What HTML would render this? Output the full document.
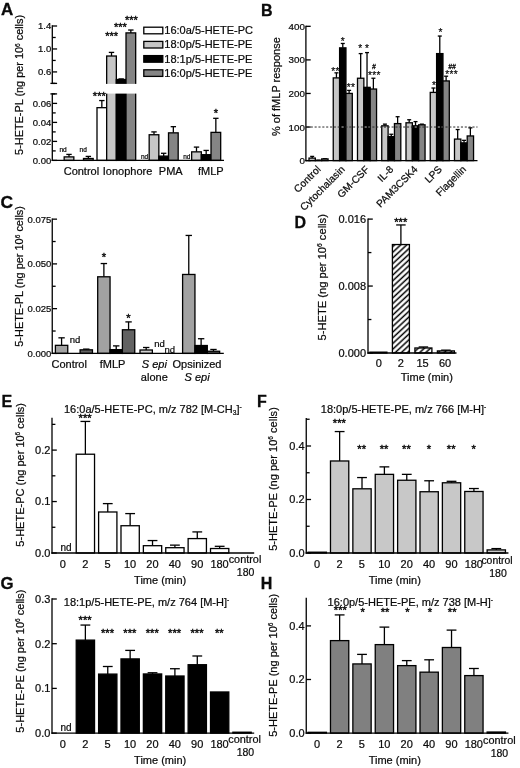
<!DOCTYPE html>
<html><head><meta charset="utf-8"><title>Figure</title>
<style>
html,body{margin:0;padding:0;background:#fff;}
svg{display:block;will-change:transform;font-family:"Liberation Sans",sans-serif;fill:#000;}
svg text{font-family:"Liberation Sans",sans-serif;fill:#0a0a0a;stroke:#0a0a0a;stroke-width:0.22px;}
</style></head><body>
<svg width="520" height="768" viewBox="0 0 520 768">
<rect x="0" y="0" width="520" height="768" fill="#fff"/>
<text transform="translate(0.90,14.80) scale(1.06,1)" font-size="16.0" font-weight="bold" style="stroke-width:0.3px">A</text>
<line x1="52.30" y1="25.35" x2="52.30" y2="84.05" stroke="#000" stroke-width="1.3" />
<line x1="52.30" y1="26.00" x2="57.10" y2="26.00" stroke="#000" stroke-width="1.3" />
<line x1="52.30" y1="48.96" x2="57.10" y2="48.96" stroke="#000" stroke-width="1.3" />
<line x1="52.30" y1="71.92" x2="57.10" y2="71.92" stroke="#000" stroke-width="1.3" />
<line x1="52.30" y1="83.40" x2="57.10" y2="83.40" stroke="#000" stroke-width="1.3" />
<line x1="52.30" y1="37.48" x2="55.70" y2="37.48" stroke="#000" stroke-width="1.3" />
<line x1="52.30" y1="60.44" x2="55.70" y2="60.44" stroke="#000" stroke-width="1.3" />
<text x="51.30" y="29.40" font-size="9.5" text-anchor="end" >1.4</text>
<text x="51.30" y="52.36" font-size="9.5" text-anchor="end" >1.0</text>
<text x="51.30" y="75.32" font-size="9.5" text-anchor="end" >0.6</text>
<line x1="52.30" y1="93.25" x2="52.30" y2="161.05" stroke="#000" stroke-width="1.3" />
<line x1="52.30" y1="93.90" x2="57.10" y2="93.90" stroke="#000" stroke-width="1.3" />
<line x1="52.30" y1="103.40" x2="57.10" y2="103.40" stroke="#000" stroke-width="1.3" />
<line x1="52.30" y1="122.40" x2="57.10" y2="122.40" stroke="#000" stroke-width="1.3" />
<line x1="52.30" y1="141.40" x2="57.10" y2="141.40" stroke="#000" stroke-width="1.3" />
<line x1="52.30" y1="160.40" x2="57.10" y2="160.40" stroke="#000" stroke-width="1.3" />
<line x1="52.30" y1="112.90" x2="55.70" y2="112.90" stroke="#000" stroke-width="1.3" />
<line x1="52.30" y1="131.90" x2="55.70" y2="131.90" stroke="#000" stroke-width="1.3" />
<line x1="52.30" y1="150.90" x2="55.70" y2="150.90" stroke="#000" stroke-width="1.3" />
<text x="51.30" y="106.80" font-size="9.5" text-anchor="end" >0.06</text>
<text x="51.30" y="125.80" font-size="9.5" text-anchor="end" >0.04</text>
<text x="51.30" y="144.80" font-size="9.5" text-anchor="end" >0.02</text>
<text x="51.30" y="163.80" font-size="9.5" text-anchor="end" >0.00</text>
<text transform="translate(23.40,84.90) rotate(-90)" font-size="10.9" text-anchor="middle">5-HETE-PL (ng per 10<tspan font-size="6.5" dy="-3.9">6</tspan><tspan dy="3.9"> </tspan>cells)</text>
<line x1="69.00" y1="156.89" x2="69.00" y2="154.41" stroke="#000" stroke-width="1.3" />
<line x1="66.30" y1="154.41" x2="71.70" y2="154.41" stroke="#000" stroke-width="1.3" />
<rect x="64.17" y="156.89" width="9.67" height="3.51" fill="#c6c6c6" stroke="#000" stroke-width="1.3"/>
<line x1="88.34" y1="158.50" x2="88.34" y2="156.41" stroke="#000" stroke-width="1.3" />
<line x1="85.64" y1="156.41" x2="91.05" y2="156.41" stroke="#000" stroke-width="1.3" />
<rect x="83.51" y="158.50" width="9.67" height="1.90" fill="#858585" stroke="#000" stroke-width="1.3"/>
<text x="63.00" y="151.90" font-size="6.5" text-anchor="middle" >nd</text>
<text x="83.20" y="151.90" font-size="6.5" text-anchor="middle" >nd</text>
<line x1="101.84" y1="107.68" x2="101.84" y2="100.55" stroke="#000" stroke-width="1.3" />
<line x1="99.14" y1="100.55" x2="104.54" y2="100.55" stroke="#000" stroke-width="1.3" />
<rect x="97.00" y="107.68" width="9.67" height="52.72" fill="#fff" stroke="#000" stroke-width="1.3"/>
<line x1="111.50" y1="56.02" x2="111.50" y2="52.40" stroke="#000" stroke-width="1.3" />
<line x1="108.80" y1="52.40" x2="114.20" y2="52.40" stroke="#000" stroke-width="1.3" />
<rect x="106.67" y="56.02" width="9.67" height="104.38" fill="#c6c6c6" stroke="#000" stroke-width="1.3"/>
<line x1="121.17" y1="79.50" x2="121.17" y2="78.92" stroke="#000" stroke-width="1.3" />
<line x1="118.47" y1="78.92" x2="123.88" y2="78.92" stroke="#000" stroke-width="1.3" />
<rect x="116.34" y="79.50" width="9.67" height="80.90" fill="#000" stroke="#000" stroke-width="1.3"/>
<line x1="130.84" y1="32.89" x2="130.84" y2="30.02" stroke="#000" stroke-width="1.3" />
<line x1="128.15" y1="30.02" x2="133.54" y2="30.02" stroke="#000" stroke-width="1.3" />
<rect x="126.01" y="32.89" width="9.67" height="127.51" fill="#858585" stroke="#000" stroke-width="1.3"/>
<rect x="105.17" y="83.9" width="32.01" height="9.7" fill="#fff"/>
<text x="99.30" y="99.75" font-size="11.088000000000001" text-anchor="middle" style="stroke-width:0.38px" letter-spacing="0">***</text>
<text x="111.70" y="40.05" font-size="11.088000000000001" text-anchor="middle" style="stroke-width:0.38px" letter-spacing="0">***</text>
<text x="120.40" y="30.95" font-size="11.088000000000001" text-anchor="middle" style="stroke-width:0.38px" letter-spacing="0">***</text>
<text x="131.40" y="24.45" font-size="11.088000000000001" text-anchor="middle" style="stroke-width:0.38px" letter-spacing="0">***</text>
<line x1="154.00" y1="134.75" x2="154.00" y2="131.90" stroke="#000" stroke-width="1.3" />
<line x1="151.31" y1="131.90" x2="156.70" y2="131.90" stroke="#000" stroke-width="1.3" />
<rect x="149.17" y="134.75" width="9.67" height="25.65" fill="#c6c6c6" stroke="#000" stroke-width="1.3"/>
<line x1="163.68" y1="156.12" x2="163.68" y2="153.28" stroke="#000" stroke-width="1.3" />
<line x1="160.98" y1="153.28" x2="166.38" y2="153.28" stroke="#000" stroke-width="1.3" />
<rect x="158.84" y="156.12" width="9.67" height="4.28" fill="#000" stroke="#000" stroke-width="1.3"/>
<line x1="173.34" y1="132.85" x2="173.34" y2="126.68" stroke="#000" stroke-width="1.3" />
<line x1="170.65" y1="126.68" x2="176.04" y2="126.68" stroke="#000" stroke-width="1.3" />
<rect x="168.51" y="132.85" width="9.67" height="27.55" fill="#858585" stroke="#000" stroke-width="1.3"/>
<text x="144.60" y="159.00" font-size="6.5" text-anchor="middle" >nd</text>
<line x1="196.50" y1="151.85" x2="196.50" y2="147.10" stroke="#000" stroke-width="1.3" />
<line x1="193.81" y1="147.10" x2="199.20" y2="147.10" stroke="#000" stroke-width="1.3" />
<rect x="191.67" y="151.85" width="9.67" height="8.55" fill="#c6c6c6" stroke="#000" stroke-width="1.3"/>
<line x1="206.18" y1="154.70" x2="206.18" y2="150.43" stroke="#000" stroke-width="1.3" />
<line x1="203.48" y1="150.43" x2="208.88" y2="150.43" stroke="#000" stroke-width="1.3" />
<rect x="201.34" y="154.70" width="9.67" height="5.70" fill="#000" stroke="#000" stroke-width="1.3"/>
<line x1="215.84" y1="132.38" x2="215.84" y2="118.31" stroke="#000" stroke-width="1.3" />
<line x1="213.15" y1="118.31" x2="218.54" y2="118.31" stroke="#000" stroke-width="1.3" />
<rect x="211.01" y="132.38" width="9.67" height="28.03" fill="#858585" stroke="#000" stroke-width="1.3"/>
<text x="186.80" y="159.00" font-size="6.5" text-anchor="middle" >nd</text>
<text x="216.00" y="117.45" font-size="11.088000000000001" text-anchor="middle" style="stroke-width:0.38px" letter-spacing="0">*</text>
<line x1="50.40" y1="83.40" x2="55.30" y2="83.40" stroke="#000" stroke-width="1.3" />
<line x1="50.40" y1="93.90" x2="55.30" y2="93.90" stroke="#000" stroke-width="1.3" />
<line x1="51.65" y1="160.40" x2="224.00" y2="160.40" stroke="#000" stroke-width="1.3" />
<text x="63.70" y="174.75" font-size="11" text-anchor="start" >Control</text>
<text x="102.80" y="174.75" font-size="11" text-anchor="start" >Ionophore</text>
<text x="158.80" y="174.75" font-size="11" text-anchor="start" >PMA</text>
<text x="198.00" y="174.75" font-size="11" text-anchor="start" >fMLP</text>
<rect x="143.8" y="27.20" width="19.0" height="6.6" fill="#fff" stroke="#000" stroke-width="1.3"/>
<text x="164.30" y="34.20" font-size="11" text-anchor="start" >16:0a/5-HETE-PC</text>
<rect x="143.8" y="41.40" width="19.0" height="6.6" fill="#c6c6c6" stroke="#000" stroke-width="1.3"/>
<text x="164.30" y="48.40" font-size="11" text-anchor="start" >18:0p/5-HETE-PE</text>
<rect x="143.8" y="55.60" width="19.0" height="6.6" fill="#000" stroke="#000" stroke-width="1.3"/>
<text x="164.30" y="62.60" font-size="11" text-anchor="start" >18:1p/5-HETE-PE</text>
<rect x="143.8" y="69.80" width="19.0" height="6.6" fill="#858585" stroke="#000" stroke-width="1.3"/>
<text x="164.30" y="76.80" font-size="11" text-anchor="start" >16:0p/5-HETE-PE</text>
<text transform="translate(261.00,15.50) scale(1.0,1)" font-size="16" font-weight="bold" style="stroke-width:0.3px">B</text>
<line x1="305.90" y1="25.67" x2="305.90" y2="161.25" stroke="#000" stroke-width="1.3" />
<line x1="305.90" y1="26.32" x2="310.70" y2="26.32" stroke="#000" stroke-width="1.3" />
<line x1="305.90" y1="59.89" x2="310.70" y2="59.89" stroke="#000" stroke-width="1.3" />
<line x1="305.90" y1="93.46" x2="310.70" y2="93.46" stroke="#000" stroke-width="1.3" />
<line x1="305.90" y1="127.03" x2="310.70" y2="127.03" stroke="#000" stroke-width="1.3" />
<line x1="305.90" y1="160.60" x2="310.70" y2="160.60" stroke="#000" stroke-width="1.3" />
<text x="304.90" y="29.83" font-size="9.8" text-anchor="end" >400</text>
<text x="304.90" y="63.40" font-size="9.8" text-anchor="end" >300</text>
<text x="304.90" y="96.97" font-size="9.8" text-anchor="end" >200</text>
<text x="304.90" y="130.54" font-size="9.8" text-anchor="end" >100</text>
<text x="304.90" y="164.11" font-size="9.8" text-anchor="end" >0</text>
<text transform="translate(280.40,86.60) rotate(-90)" font-size="11" text-anchor="middle">% of fMLP response</text>
<line x1="312.18" y1="158.09" x2="312.18" y2="156.40" stroke="#000" stroke-width="1.3" />
<line x1="310.18" y1="156.40" x2="314.18" y2="156.40" stroke="#000" stroke-width="1.3" />
<rect x="309.00" y="158.09" width="6.35" height="2.51" fill="#c6c6c6" stroke="#000" stroke-width="1.3"/>
<line x1="318.53" y1="160.32" x2="318.53" y2="160.25" stroke="#000" stroke-width="1.3" />
<line x1="316.53" y1="160.25" x2="320.53" y2="160.25" stroke="#000" stroke-width="1.3" />
<rect x="315.35" y="160.32" width="6.35" height="0.28" fill="#000" stroke="#000" stroke-width="1.3"/>
<line x1="324.88" y1="158.90" x2="324.88" y2="158.70" stroke="#000" stroke-width="1.3" />
<line x1="322.88" y1="158.70" x2="326.88" y2="158.70" stroke="#000" stroke-width="1.3" />
<rect x="321.70" y="158.90" width="6.35" height="1.70" fill="#858585" stroke="#000" stroke-width="1.3"/>
<line x1="336.43" y1="77.90" x2="336.43" y2="72.84" stroke="#000" stroke-width="1.3" />
<line x1="334.43" y1="72.84" x2="338.43" y2="72.84" stroke="#000" stroke-width="1.3" />
<rect x="333.25" y="77.90" width="6.35" height="82.70" fill="#c6c6c6" stroke="#000" stroke-width="1.3"/>
<line x1="342.78" y1="47.86" x2="342.78" y2="43.47" stroke="#000" stroke-width="1.3" />
<line x1="340.78" y1="43.47" x2="344.78" y2="43.47" stroke="#000" stroke-width="1.3" />
<rect x="339.60" y="47.86" width="6.35" height="112.74" fill="#000" stroke="#000" stroke-width="1.3"/>
<line x1="349.12" y1="93.42" x2="349.12" y2="90.39" stroke="#000" stroke-width="1.3" />
<line x1="347.12" y1="90.39" x2="351.12" y2="90.39" stroke="#000" stroke-width="1.3" />
<rect x="345.95" y="93.42" width="6.35" height="67.18" fill="#858585" stroke="#000" stroke-width="1.3"/>
<line x1="360.68" y1="78.24" x2="360.68" y2="53.60" stroke="#000" stroke-width="1.3" />
<line x1="358.68" y1="53.60" x2="362.68" y2="53.60" stroke="#000" stroke-width="1.3" />
<rect x="357.50" y="78.24" width="6.35" height="82.36" fill="#c6c6c6" stroke="#000" stroke-width="1.3"/>
<line x1="367.03" y1="87.35" x2="367.03" y2="52.59" stroke="#000" stroke-width="1.3" />
<line x1="365.03" y1="52.59" x2="369.03" y2="52.59" stroke="#000" stroke-width="1.3" />
<rect x="363.85" y="87.35" width="6.35" height="73.25" fill="#000" stroke="#000" stroke-width="1.3"/>
<line x1="373.38" y1="89.04" x2="373.38" y2="78.24" stroke="#000" stroke-width="1.3" />
<line x1="371.38" y1="78.24" x2="375.38" y2="78.24" stroke="#000" stroke-width="1.3" />
<rect x="370.20" y="89.04" width="6.35" height="71.56" fill="#858585" stroke="#000" stroke-width="1.3"/>
<line x1="384.93" y1="125.82" x2="384.93" y2="124.14" stroke="#000" stroke-width="1.3" />
<line x1="382.93" y1="124.14" x2="386.93" y2="124.14" stroke="#000" stroke-width="1.3" />
<rect x="381.75" y="125.82" width="6.35" height="34.78" fill="#c6c6c6" stroke="#000" stroke-width="1.3"/>
<line x1="391.28" y1="136.62" x2="391.28" y2="134.26" stroke="#000" stroke-width="1.3" />
<line x1="389.28" y1="134.26" x2="393.28" y2="134.26" stroke="#000" stroke-width="1.3" />
<rect x="388.10" y="136.62" width="6.35" height="23.97" fill="#000" stroke="#000" stroke-width="1.3"/>
<line x1="397.62" y1="123.60" x2="397.62" y2="116.71" stroke="#000" stroke-width="1.3" />
<line x1="395.62" y1="116.71" x2="399.62" y2="116.71" stroke="#000" stroke-width="1.3" />
<rect x="394.45" y="123.60" width="6.35" height="37.00" fill="#858585" stroke="#000" stroke-width="1.3"/>
<line x1="409.18" y1="122.79" x2="409.18" y2="119.75" stroke="#000" stroke-width="1.3" />
<line x1="407.18" y1="119.75" x2="411.18" y2="119.75" stroke="#000" stroke-width="1.3" />
<rect x="406.00" y="122.79" width="6.35" height="37.81" fill="#c6c6c6" stroke="#000" stroke-width="1.3"/>
<line x1="415.53" y1="125.82" x2="415.53" y2="121.61" stroke="#000" stroke-width="1.3" />
<line x1="413.53" y1="121.61" x2="417.53" y2="121.61" stroke="#000" stroke-width="1.3" />
<rect x="412.35" y="125.82" width="6.35" height="34.78" fill="#000" stroke="#000" stroke-width="1.3"/>
<line x1="421.88" y1="124.81" x2="421.88" y2="124.14" stroke="#000" stroke-width="1.3" />
<line x1="419.88" y1="124.14" x2="423.88" y2="124.14" stroke="#000" stroke-width="1.3" />
<rect x="418.70" y="124.81" width="6.35" height="35.79" fill="#858585" stroke="#000" stroke-width="1.3"/>
<line x1="433.43" y1="92.41" x2="433.43" y2="88.02" stroke="#000" stroke-width="1.3" />
<line x1="431.43" y1="88.02" x2="435.43" y2="88.02" stroke="#000" stroke-width="1.3" />
<rect x="430.25" y="92.41" width="6.35" height="68.19" fill="#c6c6c6" stroke="#000" stroke-width="1.3"/>
<line x1="439.78" y1="53.60" x2="439.78" y2="36.05" stroke="#000" stroke-width="1.3" />
<line x1="437.78" y1="36.05" x2="441.78" y2="36.05" stroke="#000" stroke-width="1.3" />
<rect x="436.60" y="53.60" width="6.35" height="107.00" fill="#000" stroke="#000" stroke-width="1.3"/>
<line x1="446.12" y1="80.94" x2="446.12" y2="76.21" stroke="#000" stroke-width="1.3" />
<line x1="444.12" y1="76.21" x2="448.12" y2="76.21" stroke="#000" stroke-width="1.3" />
<rect x="442.95" y="80.94" width="6.35" height="79.66" fill="#858585" stroke="#000" stroke-width="1.3"/>
<line x1="457.68" y1="139.09" x2="457.68" y2="129.54" stroke="#000" stroke-width="1.3" />
<line x1="455.68" y1="129.54" x2="459.68" y2="129.54" stroke="#000" stroke-width="1.3" />
<rect x="454.50" y="139.09" width="6.35" height="21.51" fill="#c6c6c6" stroke="#000" stroke-width="1.3"/>
<line x1="464.03" y1="142.87" x2="464.03" y2="140.34" stroke="#000" stroke-width="1.3" />
<line x1="462.03" y1="140.34" x2="466.03" y2="140.34" stroke="#000" stroke-width="1.3" />
<rect x="460.85" y="142.87" width="6.35" height="17.73" fill="#000" stroke="#000" stroke-width="1.3"/>
<line x1="470.38" y1="135.95" x2="470.38" y2="127.85" stroke="#000" stroke-width="1.3" />
<line x1="468.38" y1="127.85" x2="472.38" y2="127.85" stroke="#000" stroke-width="1.3" />
<rect x="467.20" y="135.95" width="6.35" height="24.65" fill="#858585" stroke="#000" stroke-width="1.3"/>
<line x1="305.25" y1="160.60" x2="477.50" y2="160.60" stroke="#000" stroke-width="1.3" />
<line x1="306.90" y1="127.03" x2="477.5" y2="127.03" stroke="#2a2a2a" stroke-width="1.0" stroke-dasharray="2.1,1.75"/>
<line x1="340.25" y1="127.03" x2="345.30" y2="127.03" stroke="#b0b0b0" stroke-width="1.0" stroke-dasharray="2.1,1.75" stroke-dashoffset="2.55"/>
<line x1="364.50" y1="127.03" x2="369.55" y2="127.03" stroke="#b0b0b0" stroke-width="1.0" stroke-dasharray="2.1,1.75" stroke-dashoffset="3.70"/>
<line x1="413.00" y1="127.03" x2="418.05" y2="127.03" stroke="#b0b0b0" stroke-width="1.0" stroke-dasharray="2.1,1.75" stroke-dashoffset="2.15"/>
<line x1="437.25" y1="127.03" x2="442.30" y2="127.03" stroke="#b0b0b0" stroke-width="1.0" stroke-dasharray="2.1,1.75" stroke-dashoffset="3.30"/>
<text transform="translate(321.32,170.0) rotate(-45)" font-size="10.2" text-anchor="end">Control</text>
<text transform="translate(345.57,170.0) rotate(-45)" font-size="10.2" text-anchor="end">Cytochalasin</text>
<text transform="translate(369.82,170.0) rotate(-45)" font-size="10.2" text-anchor="end">GM-CSF</text>
<text transform="translate(394.07,170.0) rotate(-45)" font-size="10.2" text-anchor="end">IL-8</text>
<text transform="translate(418.32,170.0) rotate(-45)" font-size="10.2" text-anchor="end">PAM3CSK4</text>
<text transform="translate(442.57,170.0) rotate(-45)" font-size="10.2" text-anchor="end">LPS</text>
<text transform="translate(466.82,170.0) rotate(-45)" font-size="10.2" text-anchor="end">Flagellin</text>
<text x="335.57" y="74.99" font-size="10.080000000000002" text-anchor="middle" style="stroke-width:0.2px" letter-spacing="0.35">**</text>
<text x="342.78" y="44.79" font-size="10.080000000000002" text-anchor="middle" style="stroke-width:0.2px" letter-spacing="0.35">*</text>
<text x="351.07" y="90.79" font-size="10.080000000000002" text-anchor="middle" style="stroke-width:0.2px" letter-spacing="0.35">**</text>
<text x="360.38" y="52.19" font-size="10.080000000000002" text-anchor="middle" style="stroke-width:0.2px" letter-spacing="0.35">*</text>
<text x="367.18" y="52.19" font-size="10.080000000000002" text-anchor="middle" style="stroke-width:0.2px" letter-spacing="0.35">*</text>
<text x="374.38" y="78.59" font-size="10.080000000000002" text-anchor="middle" style="stroke-width:0.2px" letter-spacing="0.35">***</text>
<text x="373.80" y="68.70" font-size="6.8" text-anchor="middle" font-style="italic" style="stroke-width:0.32px">#</text>
<text x="434.18" y="88.59" font-size="10.080000000000002" text-anchor="middle" style="stroke-width:0.2px" letter-spacing="0.35">*</text>
<text x="440.68" y="36.09" font-size="10.080000000000002" text-anchor="middle" style="stroke-width:0.2px" letter-spacing="0.35">*</text>
<text x="451.68" y="78.09" font-size="10.080000000000002" text-anchor="middle" style="stroke-width:0.2px" letter-spacing="0.35">***</text>
<text x="452.00" y="68.80" font-size="6.8" text-anchor="middle" font-style="italic" style="stroke-width:0.32px">##</text>
<text transform="translate(0.60,208.40) scale(1.09,1)" font-size="16" font-weight="bold" style="stroke-width:0.3px">C</text>
<line x1="52.25" y1="218.50" x2="52.25" y2="354.05" stroke="#000" stroke-width="1.3" />
<line x1="52.25" y1="219.15" x2="57.05" y2="219.15" stroke="#000" stroke-width="1.3" />
<line x1="52.25" y1="263.90" x2="57.05" y2="263.90" stroke="#000" stroke-width="1.3" />
<line x1="52.25" y1="308.65" x2="57.05" y2="308.65" stroke="#000" stroke-width="1.3" />
<line x1="52.25" y1="353.40" x2="57.05" y2="353.40" stroke="#000" stroke-width="1.3" />
<line x1="52.25" y1="241.52" x2="55.65" y2="241.52" stroke="#000" stroke-width="1.3" />
<line x1="52.25" y1="286.27" x2="55.65" y2="286.27" stroke="#000" stroke-width="1.3" />
<line x1="52.25" y1="331.02" x2="55.65" y2="331.02" stroke="#000" stroke-width="1.3" />
<text x="51.25" y="222.55" font-size="9.5" text-anchor="end" >0.075</text>
<text x="51.25" y="267.30" font-size="9.5" text-anchor="end" >0.050</text>
<text x="51.25" y="312.05" font-size="9.5" text-anchor="end" >0.025</text>
<text x="51.25" y="356.80" font-size="9.5" text-anchor="end" >0.000</text>
<text transform="translate(23.40,276.40) rotate(-90)" font-size="10.95" text-anchor="middle">5-HETE-PL (ng per 10<tspan font-size="6.6" dy="-3.9">6</tspan><tspan dy="3.9"> </tspan>cells)</text>
<line x1="61.58" y1="345.34" x2="61.58" y2="337.83" stroke="#000" stroke-width="1.3" />
<line x1="58.38" y1="337.83" x2="64.78" y2="337.83" stroke="#000" stroke-width="1.3" />
<rect x="55.40" y="345.34" width="12.35" height="8.06" fill="#a2a2a2" stroke="#000" stroke-width="1.3"/>
<line x1="86.27" y1="349.82" x2="86.27" y2="349.10" stroke="#000" stroke-width="1.3" />
<line x1="83.07" y1="349.10" x2="89.47" y2="349.10" stroke="#000" stroke-width="1.3" />
<rect x="80.10" y="349.82" width="12.35" height="3.58" fill="#626262" stroke="#000" stroke-width="1.3"/>
<text x="75.00" y="343.00" font-size="9.5" text-anchor="middle" >nd</text>
<line x1="103.88" y1="276.79" x2="103.88" y2="263.54" stroke="#000" stroke-width="1.3" />
<line x1="100.67" y1="263.54" x2="107.08" y2="263.54" stroke="#000" stroke-width="1.3" />
<rect x="97.70" y="276.79" width="12.35" height="76.61" fill="#a2a2a2" stroke="#000" stroke-width="1.3"/>
<line x1="116.22" y1="349.64" x2="116.22" y2="345.88" stroke="#000" stroke-width="1.3" />
<line x1="113.02" y1="345.88" x2="119.42" y2="345.88" stroke="#000" stroke-width="1.3" />
<rect x="110.05" y="349.64" width="12.35" height="3.76" fill="#000" stroke="#000" stroke-width="1.3"/>
<line x1="128.57" y1="329.77" x2="128.57" y2="321.90" stroke="#000" stroke-width="1.3" />
<line x1="125.37" y1="321.90" x2="131.77" y2="321.90" stroke="#000" stroke-width="1.3" />
<rect x="122.40" y="329.77" width="12.35" height="23.63" fill="#626262" stroke="#000" stroke-width="1.3"/>
<text x="103.90" y="260.51" font-size="11.200000000000001" text-anchor="middle" style="stroke-width:0.38px" letter-spacing="0">*</text>
<text x="128.50" y="321.51" font-size="11.200000000000001" text-anchor="middle" style="stroke-width:0.38px" letter-spacing="0">*</text>
<line x1="146.18" y1="350.00" x2="146.18" y2="347.49" stroke="#000" stroke-width="1.3" />
<line x1="142.98" y1="347.49" x2="149.38" y2="347.49" stroke="#000" stroke-width="1.3" />
<rect x="140.00" y="350.00" width="12.35" height="3.40" fill="#d0d0d0" stroke="#000" stroke-width="1.3"/>
<text x="159.50" y="347.00" font-size="9.5" text-anchor="middle" >nd</text>
<text x="169.80" y="353.00" font-size="9.5" text-anchor="middle" >nd</text>
<line x1="188.77" y1="274.46" x2="188.77" y2="235.44" stroke="#000" stroke-width="1.3" />
<line x1="185.57" y1="235.44" x2="191.97" y2="235.44" stroke="#000" stroke-width="1.3" />
<rect x="182.60" y="274.46" width="12.35" height="78.94" fill="#a2a2a2" stroke="#000" stroke-width="1.3"/>
<line x1="201.12" y1="345.52" x2="201.12" y2="338.72" stroke="#000" stroke-width="1.3" />
<line x1="197.93" y1="338.72" x2="204.32" y2="338.72" stroke="#000" stroke-width="1.3" />
<rect x="194.95" y="345.52" width="12.35" height="7.88" fill="#000" stroke="#000" stroke-width="1.3"/>
<line x1="213.47" y1="351.25" x2="213.47" y2="349.46" stroke="#000" stroke-width="1.3" />
<line x1="210.27" y1="349.46" x2="216.67" y2="349.46" stroke="#000" stroke-width="1.3" />
<rect x="207.30" y="351.25" width="12.35" height="2.15" fill="#626262" stroke="#000" stroke-width="1.3"/>
<line x1="51.60" y1="353.40" x2="223.80" y2="353.40" stroke="#000" stroke-width="1.3" />
<text x="69.20" y="368.00" font-size="11" text-anchor="middle" >Control</text>
<text x="112.50" y="368.00" font-size="11" text-anchor="middle" >fMLP</text>
<text x="154.40" y="367.50" font-size="11" text-anchor="middle" font-style="italic">S epi</text>
<text x="154.30" y="381.00" font-size="11" text-anchor="middle" >alone</text>
<text x="197.00" y="367.50" font-size="11" text-anchor="middle" >Opsinized</text>
<text x="197.10" y="381.00" font-size="11" text-anchor="middle" font-style="italic">S epi</text>
<text transform="translate(294.50,228.20) scale(1.0,1)" font-size="16" font-weight="bold" style="stroke-width:0.3px">D</text>
<line x1="368.00" y1="218.45" x2="368.00" y2="353.65" stroke="#000" stroke-width="1.3" />
<line x1="368.00" y1="219.10" x2="372.80" y2="219.10" stroke="#000" stroke-width="1.3" />
<line x1="368.00" y1="286.05" x2="372.80" y2="286.05" stroke="#000" stroke-width="1.3" />
<line x1="368.00" y1="353.00" x2="372.80" y2="353.00" stroke="#000" stroke-width="1.3" />
<line x1="368.00" y1="252.57" x2="371.40" y2="252.57" stroke="#000" stroke-width="1.3" />
<line x1="368.00" y1="319.52" x2="371.40" y2="319.52" stroke="#000" stroke-width="1.3" />
<text x="366.00" y="223.03" font-size="11" text-anchor="end" >0.016</text>
<text x="366.00" y="289.99" font-size="11" text-anchor="end" >0.008</text>
<text x="366.00" y="356.94" font-size="11" text-anchor="end" >0.000</text>
<text transform="translate(326.20,277.30) rotate(-90)" font-size="11.15" text-anchor="middle">5-HETE (ng per 10<tspan font-size="6.7" dy="-4.0">6</tspan><tspan dy="4.0"> </tspan>cells)</text>
<defs><pattern id="hatch" width="4.17" height="4.17" patternUnits="userSpaceOnUse" patternTransform="rotate(-43)"><rect width="4.17" height="4.17" fill="#fff"/><line x1="-1" y1="2" x2="6" y2="2" stroke="#000" stroke-width="1.5"/></pattern></defs>
<rect x="369.90" y="352.16" width="17.00" height="0.84" fill="url(#hatch)" stroke="#000" stroke-width="1.3"/>
<line x1="400.90" y1="244.54" x2="400.90" y2="224.95" stroke="#000" stroke-width="1.3" />
<line x1="396.15" y1="224.95" x2="405.65" y2="224.95" stroke="#000" stroke-width="1.3" />
<rect x="392.40" y="244.54" width="17.00" height="108.46" fill="url(#hatch)" stroke="#000" stroke-width="1.3"/>
<line x1="423.40" y1="347.98" x2="423.40" y2="346.97" stroke="#000" stroke-width="1.3" />
<line x1="418.65" y1="346.97" x2="428.15" y2="346.97" stroke="#000" stroke-width="1.3" />
<rect x="414.90" y="347.98" width="17.00" height="5.02" fill="url(#hatch)" stroke="#000" stroke-width="1.3"/>
<line x1="445.90" y1="350.91" x2="445.90" y2="350.15" stroke="#000" stroke-width="1.3" />
<line x1="441.15" y1="350.15" x2="450.65" y2="350.15" stroke="#000" stroke-width="1.3" />
<rect x="437.40" y="350.91" width="17.00" height="2.09" fill="url(#hatch)" stroke="#000" stroke-width="1.3"/>
<line x1="367.35" y1="353.00" x2="456.50" y2="353.00" stroke="#000" stroke-width="1.3" />
<text x="400.80" y="226.01" font-size="11.200000000000001" text-anchor="middle" style="stroke-width:0.38px" letter-spacing="0">***</text>
<text x="378.75" y="367.40" font-size="11" text-anchor="middle" >0</text>
<text x="400.75" y="367.40" font-size="11" text-anchor="middle" >2</text>
<text x="422.50" y="367.40" font-size="11" text-anchor="middle" >15</text>
<text x="445.00" y="367.40" font-size="11" text-anchor="middle" >60</text>
<text x="426.80" y="380.60" font-size="11" text-anchor="middle" >Time (min)</text>
<text transform="translate(1.50,406.80) scale(1.0,1)" font-size="16" font-weight="bold" style="stroke-width:0.3px">E</text>
<line x1="52.00" y1="417.85" x2="52.00" y2="553.65" stroke="#000" stroke-width="1.3" />
<line x1="52.00" y1="553.00" x2="56.80" y2="553.00" stroke="#000" stroke-width="1.3" />
<line x1="52.00" y1="501.55" x2="56.80" y2="501.55" stroke="#000" stroke-width="1.3" />
<line x1="52.00" y1="450.10" x2="56.80" y2="450.10" stroke="#000" stroke-width="1.3" />
<line x1="52.00" y1="527.27" x2="55.40" y2="527.27" stroke="#000" stroke-width="1.3" />
<line x1="52.00" y1="475.82" x2="55.40" y2="475.82" stroke="#000" stroke-width="1.3" />
<line x1="52.00" y1="424.38" x2="55.40" y2="424.38" stroke="#000" stroke-width="1.3" />
<text x="50.40" y="556.94" font-size="11" text-anchor="end" >0.0</text>
<text x="50.40" y="505.49" font-size="11" text-anchor="end" >0.1</text>
<text x="50.40" y="454.04" font-size="11" text-anchor="end" >0.2</text>
<text transform="translate(23.70,474.80) rotate(-90)" font-size="11" text-anchor="middle">5-HETE-PC (ng per 10<tspan font-size="6.6" dy="-4.0">6</tspan><tspan dy="4.0"> </tspan>cells)</text>
<line x1="85.38" y1="454.22" x2="85.38" y2="421.44" stroke="#000" stroke-width="1.3" />
<line x1="80.48" y1="421.44" x2="90.28" y2="421.44" stroke="#000" stroke-width="1.3" />
<rect x="76.23" y="454.22" width="18.30" height="98.78" fill="#fff" stroke="#000" stroke-width="1.3"/>
<line x1="107.76" y1="511.99" x2="107.76" y2="503.61" stroke="#000" stroke-width="1.3" />
<line x1="102.86" y1="503.61" x2="112.66" y2="503.61" stroke="#000" stroke-width="1.3" />
<rect x="98.61" y="511.99" width="18.30" height="41.01" fill="#fff" stroke="#000" stroke-width="1.3"/>
<line x1="130.14" y1="525.73" x2="130.14" y2="513.59" stroke="#000" stroke-width="1.3" />
<line x1="125.24" y1="513.59" x2="135.04" y2="513.59" stroke="#000" stroke-width="1.3" />
<rect x="120.99" y="525.73" width="18.30" height="27.27" fill="#fff" stroke="#000" stroke-width="1.3"/>
<line x1="152.52" y1="545.69" x2="152.52" y2="540.55" stroke="#000" stroke-width="1.3" />
<line x1="147.62" y1="540.55" x2="157.42" y2="540.55" stroke="#000" stroke-width="1.3" />
<rect x="143.37" y="545.69" width="18.30" height="7.31" fill="#fff" stroke="#000" stroke-width="1.3"/>
<line x1="174.90" y1="547.70" x2="174.90" y2="545.13" stroke="#000" stroke-width="1.3" />
<line x1="170.00" y1="545.13" x2="179.80" y2="545.13" stroke="#000" stroke-width="1.3" />
<rect x="165.75" y="547.70" width="18.30" height="5.30" fill="#fff" stroke="#000" stroke-width="1.3"/>
<line x1="197.28" y1="538.59" x2="197.28" y2="531.91" stroke="#000" stroke-width="1.3" />
<line x1="192.38" y1="531.91" x2="202.18" y2="531.91" stroke="#000" stroke-width="1.3" />
<rect x="188.13" y="538.59" width="18.30" height="14.41" fill="#fff" stroke="#000" stroke-width="1.3"/>
<line x1="219.66" y1="548.52" x2="219.66" y2="546.31" stroke="#000" stroke-width="1.3" />
<line x1="214.76" y1="546.31" x2="224.56" y2="546.31" stroke="#000" stroke-width="1.3" />
<rect x="210.51" y="548.52" width="18.30" height="4.48" fill="#fff" stroke="#000" stroke-width="1.3"/>
<line x1="51.35" y1="553.00" x2="254.20" y2="553.00" stroke="#000" stroke-width="1.3" />
<text x="66.00" y="550.60" font-size="10" text-anchor="middle" >nd</text>
<text x="85.08" y="421.51" font-size="11.200000000000001" text-anchor="middle" style="stroke-width:0.38px" letter-spacing="0">***</text>
<text x="62.90" y="568.00" font-size="11" text-anchor="middle" >0</text>
<text x="85.28" y="568.00" font-size="11" text-anchor="middle" >2</text>
<text x="107.66" y="568.00" font-size="11" text-anchor="middle" >5</text>
<text x="130.04" y="568.00" font-size="11" text-anchor="middle" >10</text>
<text x="152.42" y="568.00" font-size="11" text-anchor="middle" >20</text>
<text x="174.80" y="568.00" font-size="11" text-anchor="middle" >40</text>
<text x="197.18" y="568.00" font-size="11" text-anchor="middle" >90</text>
<text x="219.56" y="568.00" font-size="11" text-anchor="middle" >180</text>
<text x="245.00" y="563.00" font-size="10.9" text-anchor="middle" >control</text>
<text x="245.60" y="576.20" font-size="10.5" text-anchor="middle" >180</text>
<text x="160.20" y="583.80" font-size="11" text-anchor="middle" >Time (min)</text>
<text x="64.0" y="412.6" font-size="11">16:0a/5-HETE-PC, m/z 782 [M-CH<tspan font-size='6.6' dy='2.2'>3</tspan><tspan dy='-2.2'>]</tspan><tspan font-size="6.6" dy="-3.6">-</tspan></text>
<text transform="translate(257.00,407.40) scale(1.0,1)" font-size="16" font-weight="bold" style="stroke-width:0.3px">F</text>
<line x1="306.25" y1="418.10" x2="306.25" y2="553.65" stroke="#000" stroke-width="1.3" />
<line x1="306.25" y1="553.00" x2="311.05" y2="553.00" stroke="#000" stroke-width="1.3" />
<line x1="306.25" y1="499.50" x2="311.05" y2="499.50" stroke="#000" stroke-width="1.3" />
<line x1="306.25" y1="446.00" x2="311.05" y2="446.00" stroke="#000" stroke-width="1.3" />
<line x1="306.25" y1="526.25" x2="309.65" y2="526.25" stroke="#000" stroke-width="1.3" />
<line x1="306.25" y1="472.75" x2="309.65" y2="472.75" stroke="#000" stroke-width="1.3" />
<line x1="306.25" y1="419.25" x2="309.65" y2="419.25" stroke="#000" stroke-width="1.3" />
<text x="304.65" y="556.94" font-size="11" text-anchor="end" >0.0</text>
<text x="304.65" y="503.44" font-size="11" text-anchor="end" >0.2</text>
<text x="304.65" y="449.94" font-size="11" text-anchor="end" >0.4</text>
<text transform="translate(277.30,479.00) rotate(-90)" font-size="11.05" text-anchor="middle">5-HETE-PE (ng per 10<tspan font-size="6.6" dy="-4.0">6</tspan><tspan dy="4.0"> </tspan>cells)</text>
<rect x="308.10" y="552.20" width="18.30" height="0.80" fill="#c8c8c8" stroke="#000" stroke-width="1.3"/>
<line x1="339.63" y1="460.98" x2="339.63" y2="431.56" stroke="#000" stroke-width="1.3" />
<line x1="334.73" y1="431.56" x2="344.53" y2="431.56" stroke="#000" stroke-width="1.3" />
<rect x="330.48" y="460.98" width="18.30" height="92.02" fill="#c8c8c8" stroke="#000" stroke-width="1.3"/>
<line x1="362.01" y1="488.80" x2="362.01" y2="477.56" stroke="#000" stroke-width="1.3" />
<line x1="357.11" y1="477.56" x2="366.91" y2="477.56" stroke="#000" stroke-width="1.3" />
<rect x="352.86" y="488.80" width="18.30" height="64.20" fill="#c8c8c8" stroke="#000" stroke-width="1.3"/>
<line x1="384.39" y1="474.36" x2="384.39" y2="466.87" stroke="#000" stroke-width="1.3" />
<line x1="379.49" y1="466.87" x2="389.29" y2="466.87" stroke="#000" stroke-width="1.3" />
<rect x="375.24" y="474.36" width="18.30" height="78.64" fill="#c8c8c8" stroke="#000" stroke-width="1.3"/>
<line x1="406.77" y1="480.24" x2="406.77" y2="474.36" stroke="#000" stroke-width="1.3" />
<line x1="401.87" y1="474.36" x2="411.67" y2="474.36" stroke="#000" stroke-width="1.3" />
<rect x="397.62" y="480.24" width="18.30" height="72.76" fill="#c8c8c8" stroke="#000" stroke-width="1.3"/>
<line x1="429.15" y1="491.74" x2="429.15" y2="480.77" stroke="#000" stroke-width="1.3" />
<line x1="424.25" y1="480.77" x2="434.05" y2="480.77" stroke="#000" stroke-width="1.3" />
<rect x="420.00" y="491.74" width="18.30" height="61.26" fill="#c8c8c8" stroke="#000" stroke-width="1.3"/>
<line x1="451.53" y1="482.78" x2="451.53" y2="481.31" stroke="#000" stroke-width="1.3" />
<line x1="446.63" y1="481.31" x2="456.43" y2="481.31" stroke="#000" stroke-width="1.3" />
<rect x="442.38" y="482.78" width="18.30" height="70.22" fill="#c8c8c8" stroke="#000" stroke-width="1.3"/>
<line x1="473.91" y1="491.48" x2="473.91" y2="488.53" stroke="#000" stroke-width="1.3" />
<line x1="469.01" y1="488.53" x2="478.81" y2="488.53" stroke="#000" stroke-width="1.3" />
<rect x="464.76" y="491.48" width="18.30" height="61.52" fill="#c8c8c8" stroke="#000" stroke-width="1.3"/>
<line x1="496.29" y1="549.90" x2="496.29" y2="548.59" stroke="#000" stroke-width="1.3" />
<line x1="491.39" y1="548.59" x2="501.19" y2="548.59" stroke="#000" stroke-width="1.3" />
<rect x="487.14" y="549.90" width="18.30" height="3.10" fill="#c8c8c8" stroke="#000" stroke-width="1.3"/>
<line x1="305.60" y1="553.00" x2="508.45" y2="553.00" stroke="#000" stroke-width="1.3" />
<text x="339.33" y="427.26" font-size="11.200000000000001" text-anchor="middle" style="stroke-width:0.38px" letter-spacing="0">***</text>
<text x="361.71" y="453.11" font-size="11.200000000000001" text-anchor="middle" style="stroke-width:0.38px" letter-spacing="0">**</text>
<text x="384.09" y="453.11" font-size="11.200000000000001" text-anchor="middle" style="stroke-width:0.38px" letter-spacing="0">**</text>
<text x="406.47" y="453.11" font-size="11.200000000000001" text-anchor="middle" style="stroke-width:0.38px" letter-spacing="0">**</text>
<text x="428.85" y="453.11" font-size="11.200000000000001" text-anchor="middle" style="stroke-width:0.38px" letter-spacing="0">*</text>
<text x="451.23" y="453.11" font-size="11.200000000000001" text-anchor="middle" style="stroke-width:0.38px" letter-spacing="0">**</text>
<text x="473.61" y="453.11" font-size="11.200000000000001" text-anchor="middle" style="stroke-width:0.38px" letter-spacing="0">*</text>
<text x="317.15" y="568.00" font-size="11" text-anchor="middle" >0</text>
<text x="339.53" y="568.00" font-size="11" text-anchor="middle" >2</text>
<text x="361.91" y="568.00" font-size="11" text-anchor="middle" >5</text>
<text x="384.29" y="568.00" font-size="11" text-anchor="middle" >10</text>
<text x="406.67" y="568.00" font-size="11" text-anchor="middle" >20</text>
<text x="429.05" y="568.00" font-size="11" text-anchor="middle" >40</text>
<text x="451.43" y="568.00" font-size="11" text-anchor="middle" >90</text>
<text x="473.81" y="568.00" font-size="11" text-anchor="middle" >180</text>
<text x="497.00" y="564.30" font-size="10.4" text-anchor="middle" >control</text>
<text x="498.00" y="577.10" font-size="10.5" text-anchor="middle" >180</text>
<text x="394.75" y="583.80" font-size="11" text-anchor="middle" >Time (min)</text>
<text x="320.8" y="412.7" font-size="11">18:0p/5-HETE-PE, m/z 766 [M-H]<tspan font-size="6.6" dy="-3.6">-</tspan></text>
<text transform="translate(0.60,588.80) scale(1.05,1)" font-size="16" font-weight="bold" style="stroke-width:0.3px">G</text>
<line x1="52.00" y1="598.35" x2="52.00" y2="733.75" stroke="#000" stroke-width="1.3" />
<line x1="52.00" y1="733.10" x2="56.80" y2="733.10" stroke="#000" stroke-width="1.3" />
<line x1="52.00" y1="688.40" x2="56.80" y2="688.40" stroke="#000" stroke-width="1.3" />
<line x1="52.00" y1="643.70" x2="56.80" y2="643.70" stroke="#000" stroke-width="1.3" />
<line x1="52.00" y1="599.00" x2="56.80" y2="599.00" stroke="#000" stroke-width="1.3" />
<text x="50.40" y="737.04" font-size="11" text-anchor="end" >0.0</text>
<text x="50.40" y="692.34" font-size="11" text-anchor="end" >0.1</text>
<text x="50.40" y="647.64" font-size="11" text-anchor="end" >0.2</text>
<text x="50.40" y="602.94" font-size="11" text-anchor="end" >0.3</text>
<text transform="translate(23.70,661.10) rotate(-90)" font-size="11" text-anchor="middle">5-HETE-PE (ng per 10<tspan font-size="6.6" dy="-4.0">6</tspan><tspan dy="4.0"> </tspan>cells)</text>
<line x1="85.38" y1="640.12" x2="85.38" y2="625.06" stroke="#000" stroke-width="1.3" />
<line x1="80.48" y1="625.06" x2="90.28" y2="625.06" stroke="#000" stroke-width="1.3" />
<rect x="76.23" y="640.12" width="18.30" height="92.98" fill="#000" stroke="#000" stroke-width="1.3"/>
<line x1="107.76" y1="674.10" x2="107.76" y2="666.50" stroke="#000" stroke-width="1.3" />
<line x1="102.86" y1="666.50" x2="112.66" y2="666.50" stroke="#000" stroke-width="1.3" />
<rect x="98.61" y="674.10" width="18.30" height="59.00" fill="#000" stroke="#000" stroke-width="1.3"/>
<line x1="130.14" y1="658.90" x2="130.14" y2="650.40" stroke="#000" stroke-width="1.3" />
<line x1="125.24" y1="650.40" x2="135.04" y2="650.40" stroke="#000" stroke-width="1.3" />
<rect x="120.99" y="658.90" width="18.30" height="74.20" fill="#000" stroke="#000" stroke-width="1.3"/>
<line x1="152.52" y1="673.96" x2="152.52" y2="672.75" stroke="#000" stroke-width="1.3" />
<line x1="147.62" y1="672.75" x2="157.42" y2="672.75" stroke="#000" stroke-width="1.3" />
<rect x="143.37" y="673.96" width="18.30" height="59.14" fill="#000" stroke="#000" stroke-width="1.3"/>
<line x1="174.90" y1="676.02" x2="174.90" y2="668.73" stroke="#000" stroke-width="1.3" />
<line x1="170.00" y1="668.73" x2="179.80" y2="668.73" stroke="#000" stroke-width="1.3" />
<rect x="165.75" y="676.02" width="18.30" height="57.08" fill="#000" stroke="#000" stroke-width="1.3"/>
<line x1="197.28" y1="664.71" x2="197.28" y2="655.99" stroke="#000" stroke-width="1.3" />
<line x1="192.38" y1="655.99" x2="202.18" y2="655.99" stroke="#000" stroke-width="1.3" />
<rect x="188.13" y="664.71" width="18.30" height="68.39" fill="#000" stroke="#000" stroke-width="1.3"/>
<rect x="210.51" y="691.98" width="18.30" height="41.12" fill="#000" stroke="#000" stroke-width="1.3"/>
<rect x="232.89" y="732.21" width="18.30" height="0.89" fill="#000" stroke="#000" stroke-width="1.3"/>
<line x1="51.35" y1="733.10" x2="254.20" y2="733.10" stroke="#000" stroke-width="1.3" />
<text x="66.00" y="730.70" font-size="10" text-anchor="middle" >nd</text>
<text x="85.08" y="624.26" font-size="11.200000000000001" text-anchor="middle" style="stroke-width:0.38px" letter-spacing="0">***</text>
<text x="107.46" y="637.31" font-size="11.200000000000001" text-anchor="middle" style="stroke-width:0.38px" letter-spacing="0">***</text>
<text x="129.84" y="637.31" font-size="11.200000000000001" text-anchor="middle" style="stroke-width:0.38px" letter-spacing="0">***</text>
<text x="152.22" y="637.31" font-size="11.200000000000001" text-anchor="middle" style="stroke-width:0.38px" letter-spacing="0">***</text>
<text x="174.60" y="637.31" font-size="11.200000000000001" text-anchor="middle" style="stroke-width:0.38px" letter-spacing="0">***</text>
<text x="196.98" y="637.31" font-size="11.200000000000001" text-anchor="middle" style="stroke-width:0.38px" letter-spacing="0">***</text>
<text x="219.36" y="637.31" font-size="11.200000000000001" text-anchor="middle" style="stroke-width:0.38px" letter-spacing="0">**</text>
<text x="62.90" y="747.50" font-size="11" text-anchor="middle" >0</text>
<text x="85.28" y="747.50" font-size="11" text-anchor="middle" >2</text>
<text x="107.66" y="747.50" font-size="11" text-anchor="middle" >5</text>
<text x="130.04" y="747.50" font-size="11" text-anchor="middle" >10</text>
<text x="152.42" y="747.50" font-size="11" text-anchor="middle" >20</text>
<text x="174.80" y="747.50" font-size="11" text-anchor="middle" >40</text>
<text x="197.18" y="747.50" font-size="11" text-anchor="middle" >90</text>
<text x="219.56" y="747.50" font-size="11" text-anchor="middle" >180</text>
<text x="244.60" y="742.50" font-size="10.9" text-anchor="middle" >control</text>
<text x="245.40" y="756.20" font-size="10.5" text-anchor="middle" >180</text>
<text x="160.20" y="763.90" font-size="11" text-anchor="middle" >Time (min)</text>
<text x="63.8" y="605.7" font-size="11">18:1p/5-HETE-PE, m/z 764 [M-H]<tspan font-size="6.6" dy="-3.6">-</tspan></text>
<text transform="translate(260.80,588.80) scale(1.0,1)" font-size="16" font-weight="bold" style="stroke-width:0.3px">H</text>
<line x1="306.25" y1="597.85" x2="306.25" y2="733.75" stroke="#000" stroke-width="1.3" />
<line x1="306.25" y1="733.10" x2="311.05" y2="733.10" stroke="#000" stroke-width="1.3" />
<line x1="306.25" y1="679.50" x2="311.05" y2="679.50" stroke="#000" stroke-width="1.3" />
<line x1="306.25" y1="625.90" x2="311.05" y2="625.90" stroke="#000" stroke-width="1.3" />
<text x="304.65" y="737.04" font-size="11" text-anchor="end" >0.0</text>
<text x="304.65" y="683.44" font-size="11" text-anchor="end" >0.2</text>
<text x="304.65" y="629.84" font-size="11" text-anchor="end" >0.4</text>
<text transform="translate(277.30,665.30) rotate(-90)" font-size="11" text-anchor="middle">5-HETE-PE (ng per 10<tspan font-size="6.6" dy="-4.0">6</tspan><tspan dy="4.0"> </tspan>cells)</text>
<rect x="308.10" y="732.30" width="18.30" height="0.80" fill="#808080" stroke="#000" stroke-width="1.3"/>
<line x1="339.63" y1="640.61" x2="339.63" y2="614.91" stroke="#000" stroke-width="1.3" />
<line x1="334.73" y1="614.91" x2="344.53" y2="614.91" stroke="#000" stroke-width="1.3" />
<rect x="330.48" y="640.61" width="18.30" height="92.49" fill="#808080" stroke="#000" stroke-width="1.3"/>
<line x1="362.01" y1="663.93" x2="362.01" y2="654.39" stroke="#000" stroke-width="1.3" />
<line x1="357.11" y1="654.39" x2="366.91" y2="654.39" stroke="#000" stroke-width="1.3" />
<rect x="352.86" y="663.93" width="18.30" height="69.17" fill="#808080" stroke="#000" stroke-width="1.3"/>
<line x1="384.39" y1="644.61" x2="384.39" y2="627.11" stroke="#000" stroke-width="1.3" />
<line x1="379.49" y1="627.11" x2="389.29" y2="627.11" stroke="#000" stroke-width="1.3" />
<rect x="375.24" y="644.61" width="18.30" height="88.49" fill="#808080" stroke="#000" stroke-width="1.3"/>
<line x1="406.77" y1="665.62" x2="406.77" y2="660.61" stroke="#000" stroke-width="1.3" />
<line x1="401.87" y1="660.61" x2="411.67" y2="660.61" stroke="#000" stroke-width="1.3" />
<rect x="397.62" y="665.62" width="18.30" height="67.48" fill="#808080" stroke="#000" stroke-width="1.3"/>
<line x1="429.15" y1="672.16" x2="429.15" y2="659.80" stroke="#000" stroke-width="1.3" />
<line x1="424.25" y1="659.80" x2="434.05" y2="659.80" stroke="#000" stroke-width="1.3" />
<rect x="420.00" y="672.16" width="18.30" height="60.94" fill="#808080" stroke="#000" stroke-width="1.3"/>
<line x1="451.53" y1="647.50" x2="451.53" y2="630.11" stroke="#000" stroke-width="1.3" />
<line x1="446.63" y1="630.11" x2="456.43" y2="630.11" stroke="#000" stroke-width="1.3" />
<rect x="442.38" y="647.50" width="18.30" height="85.60" fill="#808080" stroke="#000" stroke-width="1.3"/>
<line x1="473.91" y1="675.59" x2="473.91" y2="668.49" stroke="#000" stroke-width="1.3" />
<line x1="469.01" y1="668.49" x2="478.81" y2="668.49" stroke="#000" stroke-width="1.3" />
<rect x="464.76" y="675.59" width="18.30" height="57.51" fill="#808080" stroke="#000" stroke-width="1.3"/>
<rect x="487.14" y="732.03" width="18.30" height="1.07" fill="#808080" stroke="#000" stroke-width="1.3"/>
<line x1="305.60" y1="733.10" x2="508.45" y2="733.10" stroke="#000" stroke-width="1.3" />
<text x="340.33" y="613.51" font-size="11.200000000000001" text-anchor="middle" style="stroke-width:0.38px" letter-spacing="0">***</text>
<text x="362.71" y="615.91" font-size="11.200000000000001" text-anchor="middle" style="stroke-width:0.38px" letter-spacing="0">*</text>
<text x="385.09" y="615.91" font-size="11.200000000000001" text-anchor="middle" style="stroke-width:0.38px" letter-spacing="0">**</text>
<text x="407.47" y="615.91" font-size="11.200000000000001" text-anchor="middle" style="stroke-width:0.38px" letter-spacing="0">*</text>
<text x="429.85" y="615.91" font-size="11.200000000000001" text-anchor="middle" style="stroke-width:0.38px" letter-spacing="0">*</text>
<text x="452.23" y="615.91" font-size="11.200000000000001" text-anchor="middle" style="stroke-width:0.38px" letter-spacing="0">**</text>
<text x="317.15" y="747.80" font-size="11" text-anchor="middle" >0</text>
<text x="339.53" y="747.80" font-size="11" text-anchor="middle" >2</text>
<text x="361.91" y="747.80" font-size="11" text-anchor="middle" >5</text>
<text x="384.29" y="747.80" font-size="11" text-anchor="middle" >10</text>
<text x="406.67" y="747.80" font-size="11" text-anchor="middle" >20</text>
<text x="429.05" y="747.80" font-size="11" text-anchor="middle" >40</text>
<text x="451.43" y="747.80" font-size="11" text-anchor="middle" >90</text>
<text x="473.81" y="747.80" font-size="11" text-anchor="middle" >180</text>
<text x="499.30" y="743.90" font-size="10.9" text-anchor="middle" >control</text>
<text x="499.40" y="757.30" font-size="10.5" text-anchor="middle" >180</text>
<text x="394.75" y="763.90" font-size="11" text-anchor="middle" >Time (min)</text>
<text x="327.6" y="605.6" font-size="11">16:0p/5-HETE-PE, m/z 738 [M-H]<tspan font-size="6.6" dy="-3.6">-</tspan></text>
</svg>
</body></html>
